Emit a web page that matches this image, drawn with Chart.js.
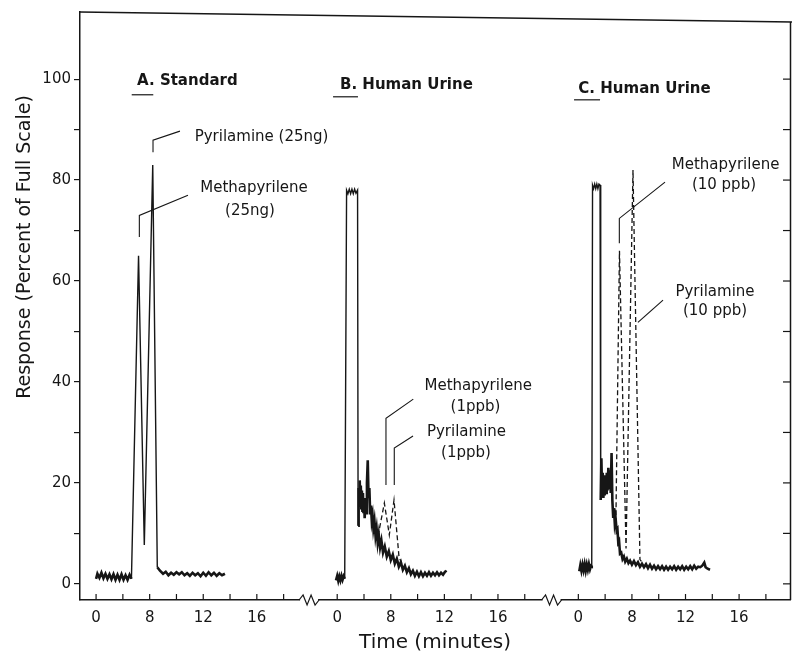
<!DOCTYPE html>
<html>
<head>
<meta charset="utf-8">
<script src="https://cdn.jsdelivr.net/npm/chart.js@4.4.0/dist/chart.umd.min.js"></script>
<style>
  html, body { margin: 0; padding: 0; background: #fff; }
  #wrap { position: relative; width: 792px; height: 659px; }
</style>
</head>
<body>
<div id="wrap"><canvas id="chromatogram"></canvas></div>
<script>
// chromatograms (time in minutes, response in % of full scale)

// A. Standard
const stdTime = [4.00, 4.10, 4.25, 4.40, 4.55, 4.70, 4.85, 5.00, 5.15, 5.30, 5.45, 5.60, 5.75, 5.90, 6.05, 6.20, 6.35, 6.50, 6.64,
  7.17, 7.60, 8.23, 8.57, 8.77,
  9.00, 9.20, 9.40, 9.60, 9.80, 10.00, 10.20, 10.40, 10.60, 10.80, 11.00, 11.20, 11.40, 11.60, 11.80, 12.00, 12.20, 12.40, 12.60, 12.80, 13.00, 13.20, 13.40, 13.62];
const stdResp = [1.0, 2.0, 1.2, 2.2, 1.1, 2.0, 1.0, 1.9, 0.9, 1.9, 0.8, 1.8, 0.8, 1.9, 0.8, 1.7, 0.8, 1.8, 1.0,
  65, 7.7, 83, 3.3, 2.6,
  2.0, 2.4, 1.7, 2.2, 1.8, 2.3, 1.9, 2.3, 1.7, 2.1, 1.6, 2.2, 1.7, 2.1, 1.5, 2.2, 1.6, 2.3, 1.7, 2.2, 1.6, 2.1, 1.7, 2.0];

// B. Human Urine, blank (solid)
const urineBTime = [3.91, 4.00, 4.08, 4.16, 4.24, 4.32, 4.40, 4.48, 4.56,
  4.70, 4.80, 4.90, 5.00, 5.10, 5.20, 5.30, 5.40, 5.52,
  5.56, 5.60, 5.64, 5.68, 5.72, 5.76, 5.80, 5.84, 5.88, 5.92, 5.96, 6.00, 6.05, 6.10, 6.16, 6.22, 6.28, 6.34, 6.40, 6.46, 6.52, 6.58, 6.64, 6.70,
  6.78, 6.86, 6.94, 7.02, 7.10, 7.20, 7.30, 7.42, 7.55, 7.70, 7.85, 8.00, 8.15, 8.30, 8.45, 8.60, 8.75, 8.90, 9.05, 9.20, 9.35, 9.50,
  9.65, 9.80, 9.95, 10.10, 10.25, 10.40, 10.55, 10.70, 10.85, 11.00, 11.15, 11.30, 11.45, 11.60, 11.75, 11.90, 12.05, 12.17];
const urineBResp = [0.7, 1.6, 0.6, 1.5, 0.7, 1.6, 0.8, 1.5, 1.0,
  78, 77.3, 78.2, 77.3, 78.2, 77.3, 78.2, 77.4, 78,
  11.5, 19, 15.5, 20.5, 16, 19.5, 15, 18.5, 14.5, 18, 14, 17, 13, 16, 14, 20, 24.5, 17, 19, 14, 15.5, 12.5, 13.5, 11,
  12.5, 9.5, 11, 8.2, 9.8, 7.2, 8.6, 6.2, 7.4, 5.4, 6.5, 4.7, 5.8, 4.0, 5.0, 3.4, 4.3, 2.8, 3.6, 2.3, 3.1, 1.9,
  2.6, 1.6, 2.4, 1.5, 2.3, 1.5, 2.2, 1.6, 2.3, 1.6, 2.2, 1.7, 2.3, 1.7, 2.2, 1.8, 2.4, 2.6];

// B. Human Urine, spiked 1 ppb (dashed)
const urineBSpikeTime = [7.05, 7.52, 7.89, 8.24, 8.61, 8.85];
const urineBSpikeResp = [9.5, 16.0, 9.7, 16.6, 5.4, 3.8];

// C. Human Urine, blank (solid)
const urineCTime = [4.07, 4.15, 4.23, 4.31, 4.39, 4.47, 4.55, 4.63, 4.71, 4.79, 4.87, 4.95, 5.00,
  5.06, 5.14, 5.22, 5.30, 5.38, 5.46, 5.54, 5.62,
  5.67, 5.72, 5.77, 5.82, 5.87, 5.92, 5.97, 6.02, 6.07, 6.12, 6.18, 6.24, 6.30, 6.36, 6.42, 6.48, 6.54, 6.60, 6.66, 6.72, 6.78,
  6.86, 6.92, 6.98, 7.04, 7.11, 7.20, 7.30, 7.40, 7.50, 7.62, 7.74, 7.86, 8.00, 8.15, 8.30, 8.45, 8.60, 8.75, 8.90, 9.05, 9.20,
  9.35, 9.50, 9.65, 9.80, 9.95, 10.10, 10.25, 10.40, 10.55, 10.70, 10.85, 11.00, 11.15, 11.30, 11.45, 11.60, 11.75, 11.90, 12.05,
  12.20, 12.35, 12.50, 12.65, 12.80, 12.95, 13.10, 13.25, 13.40, 13.50, 13.65, 13.83];
const urineCResp = [2.5, 3.7, 2.6, 3.8, 2.7, 3.9, 2.6, 3.8, 2.8, 3.9, 2.9, 3.6, 3.5,
  79, 78.3, 79.2, 78.3, 79.2, 78.3, 79.2, 79,
  16.6, 24.9, 18, 22, 17, 21.5, 17.5, 21, 18, 22, 18.5, 23, 19, 22.5, 18, 25.9, 16.5, 13.3, 15, 12, 13,
  10.5, 10.8, 8.2, 8.5, 6.0, 6.2, 4.9, 5.4, 4.4, 5.0, 4.1, 4.6, 3.8, 4.5, 3.7, 4.3, 3.4, 4.0, 3.3, 3.9, 3.1,
  3.8, 3.0, 3.6, 2.9, 3.5, 2.9, 3.5, 2.8, 3.4, 2.8, 3.4, 2.9, 3.5, 2.8, 3.4, 2.9, 3.5, 2.8, 3.4,
  2.9, 3.5, 2.9, 3.6, 3.0, 3.4, 3.3, 3.6, 4.2, 3.3, 3.0, 2.8];

// C. Human Urine, spiked 10 ppb (dashed)
const urineCSpikeTime = [6.80, 7.07, 7.56, 8.08, 8.60, 8.80];
const urineCSpikeResp = [12, 66, 7, 82, 4.8, 4.2];

// each panel is shifted along one shared time axis
const panelOffset = [0, 18, 36];
const tickTime = [4, 6, 8, 10, 12, 14, 16, 18];
const tickText = ['0', '', '8', '', '12', '', '16', ''];
const breakAt = [19.9, 38.0];
const yTicks = [0, 10, 20, 30, 40, 50, 60, 70, 80, 90, 100];

// labels (positions in axis units)
const panelTitle = ['A. Standard', 'B. Human Urine', 'C. Human Urine'];
const panelTitleX = [7.06, 22.21, 40.0];
const panelTitleY = [99.6, 98.8, 98.1];
const underlineFrom = [6.66, 21.69, 39.68];
const underlineTo = [8.27, 23.55, 41.62];
const underlineY = [96.9, 96.5, 95.9];

const noteText = ['Pyrilamine (25ng)', 'Methapyrilene', '(25ng)', 'Methapyrilene', '(1ppb)', 'Pyrilamine', '(1ppb)',
  'Methapyrilene', '(10 ppb)', 'Pyrilamine', '(10 ppb)'];
const noteX = [16.35, 15.79, 15.49, 32.53, 32.32, 31.65, 31.61, 50.99, 50.87, 50.20, 50.20];
const noteY = [88.5, 78.4, 73.8, 39.2, 35.1, 30.1, 26.0, 82.9, 79.0, 57.8, 54.0];

const leaders = [
  [[8.25, 85.5], [8.25, 87.9], [10.26, 89.7]],
  [[7.23, 68.7], [7.23, 73.0], [10.86, 77.0]],
  [[25.64, 19.6], [25.64, 32.8], [27.68, 36.6]],
  [[26.26, 19.6], [26.26, 26.9], [27.66, 29.3]],
  [[43.06, 67.5], [43.06, 72.4], [46.47, 79.6]],
  [[44.45, 51.8], [46.32, 56.2]]
];

const ink = '#161616';
Chart.defaults.font.family = "'DejaVu Sans', sans-serif";
Chart.defaults.color = ink;

function pts(times, resp, off) {
  return times.map((t, i) => ({ x: t + off, y: resp[i] }));
}

const xTickValues = [];
const xTickLabels = [];
panelOffset.forEach(off => {
  tickTime.forEach((t, i) => {
    xTickValues.push(t + off);
    xTickLabels.push(tickText[i]);
  });
});

const decor = {
  id: 'decor',
  afterDraw(chart) {
    const ctx = chart.ctx;
    const ca = chart.chartArea;
    const xs = chart.scales.x;
    const ys = chart.scales.y;
    const px = v => xs.getPixelForValue(v);
    const py = v => ys.getPixelForValue(v);

    ctx.save();
    ctx.strokeStyle = ink;
    ctx.fillStyle = ink;
    ctx.lineWidth = 1.5;

    // frame: top edge (slightly skewed as in the scan) and right edge
    ctx.beginPath();
    ctx.moveTo(ca.left, ca.top);
    ctx.lineTo(ca.right + 2, ca.top + 10);
    ctx.moveTo(ca.right + 0.5, ca.top + 10);
    ctx.lineTo(ca.right + 0.5, ca.bottom);
    ctx.stroke();

    // right axis ticks pointing inward
    ctx.lineWidth = 1.2;
    yTicks.forEach(v => {
      ctx.beginPath();
      ctx.moveTo(ca.right, py(v));
      ctx.lineTo(ca.right - 7, py(v));
      ctx.stroke();
    });

    // time axis ticks pointing inward
    xTickValues.forEach(v => {
      ctx.beginPath();
      ctx.moveTo(px(v), ca.bottom);
      ctx.lineTo(px(v), ca.bottom - 6);
      ctx.stroke();
    });

    // axis breaks
    breakAt.forEach(v => {
      const cx = px(v);
      const b = ca.bottom;
      ctx.fillStyle = '#fff';
      ctx.fillRect(cx - 9, b - 3, 18, 6);
      ctx.fillStyle = ink;
      ctx.beginPath();
      ctx.moveTo(cx - 10, b);
      ctx.lineTo(cx - 6, b - 5);
      ctx.lineTo(cx - 2, b + 5);
      ctx.lineTo(cx + 2, b - 5);
      ctx.lineTo(cx + 6, b + 5);
      ctx.lineTo(cx + 10, b);
      ctx.stroke();
    });

    // panel titles
    ctx.font = "bold 15px 'DejaVu Sans'";
    ctx.textAlign = 'left';
    ctx.textBaseline = 'middle';
    panelTitle.forEach((t, i) => {
      ctx.fillText(t, px(panelTitleX[i]), py(panelTitleY[i]));
      ctx.beginPath();
      ctx.moveTo(px(underlineFrom[i]), py(underlineY[i]));
      ctx.lineTo(px(underlineTo[i]), py(underlineY[i]));
      ctx.stroke();
    });

    // peak labels and leader lines
    ctx.font = "15px 'DejaVu Sans'";
    ctx.textAlign = 'center';
    noteText.forEach((t, i) => ctx.fillText(t, px(noteX[i]), py(noteY[i])));
    ctx.lineWidth = 1.1;
    leaders.forEach(line => {
      ctx.beginPath();
      line.forEach((p, i) => {
        if (i === 0) ctx.moveTo(px(p[0]), py(p[1]));
        else ctx.lineTo(px(p[0]), py(p[1]));
      });
      ctx.stroke();
    });

    // y axis title
    ctx.translate(25, 247);
    ctx.rotate(-Math.PI / 2);
    ctx.font = "19px 'DejaVu Sans'";
    ctx.textAlign = 'center';
    ctx.fillText('Response (Percent of Full Scale)', 0, 0);
    ctx.restore();
  }
};

// the noisy baseline is a heavy trace in the scan, the tall peak strokes are thin
const baseWidth = c => (c.p0.parsed.y < 30 && c.p1.parsed.y < 30 ? 2.6 : 1.4);
const solid = { borderColor: ink, borderWidth: 1.5, pointRadius: 0, tension: 0, fill: false, segment: { borderWidth: baseWidth } };
const dashed = { borderColor: ink, borderWidth: 1.3, borderDash: [5, 3], pointRadius: 0, tension: 0, fill: false };

new Chart(document.getElementById('chromatogram'), {
  type: 'line',
  data: {
    datasets: [
      { label: 'A. Standard', data: pts(stdTime, stdResp, panelOffset[0]), ...solid },
      { label: 'B. Human Urine', data: pts(urineBTime, urineBResp, panelOffset[1]), ...solid },
      { label: 'B. Human Urine + 1 ppb', data: pts(urineBSpikeTime, urineBSpikeResp, panelOffset[1]), ...dashed },
      { label: 'C. Human Urine', data: pts(urineCTime, urineCResp, panelOffset[2]), ...solid },
      { label: 'C. Human Urine + 10 ppb', data: pts(urineCSpikeTime, urineCSpikeResp, panelOffset[2]), ...dashed }
    ]
  },
  options: {
    responsive: true,
    maintainAspectRatio: false,
    animation: false,
    layout: { padding: { top: 12, right: 2, left: 0, bottom: 0 } },
    plugins: {
      legend: { display: false },
      tooltip: { enabled: false }
    },
    scales: {
      x: {
        type: 'linear',
        min: 2.8,
        max: 55.8,
        afterFit: s => { s.height = 59; },
        afterBuildTicks: s => { s.ticks = xTickValues.map(v => ({ value: v })); },
        grid: { drawOnChartArea: false, drawTicks: false },
        border: { color: ink, width: 1.5 },
        ticks: {
          autoSkip: false,
          maxRotation: 0,
          padding: 9,
          font: { size: 15 },
          color: ink,
          callback: (v, i) => xTickLabels[i]
        },
        title: {
          display: true,
          text: 'Time (minutes)',
          font: { size: 20 },
          color: ink,
          padding: { top: 0, bottom: 4 }
        }
      },
      y: {
        min: -3.2,
        max: 113.3,
        afterFit: s => { s.width = 80; },
        afterBuildTicks: s => { s.ticks = yTicks.map(v => ({ value: v })); },
        grid: { drawOnChartArea: false, drawTicks: true, tickLength: 6, color: ink, lineWidth: 1.2 },
        border: { color: ink, width: 1.5 },
        ticks: {
          padding: 3,
          font: { size: 15 },
          color: ink,
          callback: v => (v % 20 === 0 ? v : '')
        }
      }
    }
  },
  plugins: [decor]
});
</script>
</body>
</html>
